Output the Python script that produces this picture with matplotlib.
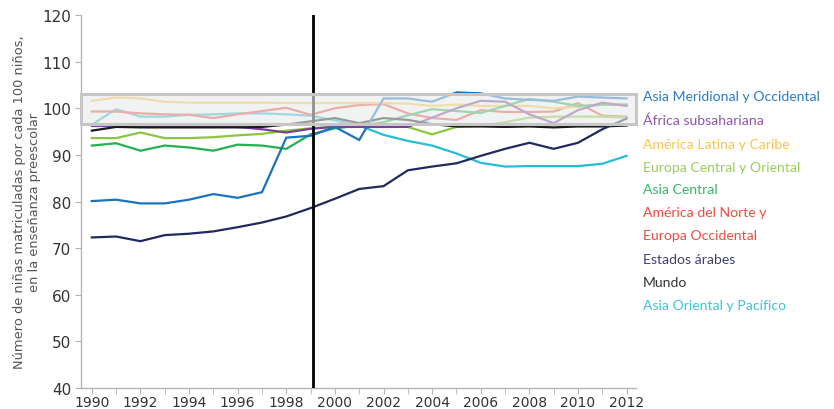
import numpy as np
import matplotlib
matplotlib.use('Agg')
import matplotlib.pyplot as plt
from matplotlib.patches import Rectangle

# data
years = list(range(1990, 2013))

asia_meridional = [80.1, 80.4, 79.6, 79.6, 80.4, 81.6, 80.8, 82.0, 93.7, 94.1, 96.0, 93.2,
                   102.1, 102.1, 101.4, 103.4, 103.2, 102.1, 101.8, 101.6, 102.5, 102.3, 102.1]
africa = [96.2, 96.2, 96.2, 96.2, 96.2, 96.1, 96.0, 95.5, 94.8, 95.6, 96.0, 96.0,
          96.0, 96.0, 98.0, 100.0, 101.6, 101.4, 98.7, 96.8, 99.6, 101.2, 100.5]
america_latina = [101.6, 102.3, 102.1, 101.4, 101.2, 101.2, 101.2, 101.2, 101.1, 101.1, 101.1, 101.1,
                  101.1, 101.0, 100.5, 100.8, 100.5, 100.5, 100.5, 100.0, 100.3, 100.7, 100.8]
europa_central = [93.6, 93.6, 94.8, 93.6, 93.6, 93.8, 94.2, 94.5, 95.2, 95.7, 96.1, 96.3,
                  96.2, 96.0, 94.4, 96.0, 96.2, 97.0, 98.0, 98.2, 98.2, 98.2, 98.0]
asia_central = [92.0, 92.5, 90.9, 92.0, 91.6, 90.9, 92.2, 92.0, 91.3, 94.4, 95.7, 96.3,
                97.0, 98.5, 99.8, 99.4, 99.0, 100.5, 102.0, 101.4, 100.5, 100.8, 100.8]
america_norte = [99.3, 99.3, 98.9, 98.7, 98.6, 97.9, 98.7, 99.4, 100.1, 98.6, 100.0, 100.7,
                 100.9, 98.9, 97.9, 97.5, 99.6, 99.2, 99.2, 99.3, 101.1, 98.4, 98.2]
estados_arabes = [72.3, 72.5, 71.5, 72.8, 73.1, 73.6, 74.5, 75.5, 76.8, 78.6, 80.6, 82.7,
                  83.3, 86.7, 87.5, 88.2, 89.8, 91.3, 92.6, 91.3, 92.6, 95.5, 97.8]
mundo = [95.2, 96.0, 95.9, 95.9, 95.9, 95.9, 95.9, 96.0, 96.5, 97.2, 97.9, 96.8,
         97.9, 97.5, 96.6, 96.1, 96.1, 96.0, 96.1, 95.9, 96.1, 96.1, 96.3]
asia_oriental = [96.5, 99.8, 98.2, 98.2, 98.6, 98.7, 98.9, 98.9, 98.7, 98.4, 97.4, 96.3,
                 94.3, 93.0, 92.0, 90.3, 88.3, 87.5, 87.6, 87.6, 87.6, 88.1, 89.8]

labels = ['Asia Meridional y Occidental', 'África subsahariana', 'América Latina y Caribe',
          'Europa Central y Oriental', 'Asia Central', 'América del Norte y',
          'Europa Occidental', 'Estados árabes', 'Mundo', 'Asia Oriental y Pacífico']
label_colors = ['#2a7bc4', '#8a55a8', '#fbc547', '#9acd5a', '#36b567', '#f04a40',
                '#f04a40', '#3a4270', '#333333', '#3cc3dc']

series = [
    (asia_oriental, '#27bcd6'),
    (america_norte, '#ee4a3f'),
    (america_latina, '#f8c547'),
    (asia_central, '#23b14d'),
    (europa_central, '#8cc63f'),
    (africa, '#7a3f9c'),
    (mundo, '#1a1a1a'),
    (asia_meridional, '#1b72bd'),
    (estados_arabes, '#1f2a5e'),
]

fig = plt.figure(figsize=(8.34, 4.10), dpi=100)
ax = fig.add_axes([0.097, 0.051, 0.666, 0.910])

for vals, col in series:
    ax.plot(years, vals, color=col, linewidth=1.6, solid_joinstyle='miter', zorder=2)

ax.axvline(1999.1, color='black', linewidth=2.0, zorder=3)

# highlighted band
box = Rectangle((1989.55, 96.7), 2012.4 - 1989.55, 103.1 - 96.7,
                facecolor='#e9ecec', alpha=0.62, edgecolor='none', zorder=4, clip_on=False)
ax.add_patch(box)
edge = Rectangle((1989.55, 96.7), 2012.4 - 1989.55, 103.1 - 96.7,
                 facecolor='none', edgecolor='#c6c6c6', linewidth=2.2, zorder=5, clip_on=False)
ax.add_patch(edge)

ax.set_xlim(1989.55, 2012.4)
ax.set_ylim(40, 120)
ax.set_yticks(range(40, 121, 10))
ax.set_xticks(range(1990, 2013, 2))
ax.set_xticks(range(1990, 2013, 1), minor=True)

for s in ['top', 'right']:
    ax.spines[s].set_visible(False)
for s in ['left', 'bottom']:
    ax.spines[s].set_color('#b5b5b5')
    ax.spines[s].set_linewidth(1.0)

ax.tick_params(axis='both', which='both', color='#b5b5b5', labelcolor='#333333', length=4)
ax.tick_params(axis='y', labelsize=11, pad=3)
ax.tick_params(axis='x', labelsize=10, pad=1)
for t in ax.get_xticklabels() + ax.get_yticklabels():
    t.set_family(['Liberation Sans Narrow', 'DejaVu Sans'])

ax.set_ylabel('Número de niñas matriculadas por cada 100 niños,\nen la enseñanza preescolar',
              fontsize=9.4, color='#555555', family=['Liberation Sans Narrow', 'DejaVu Sans'],
              linespacing=1.15, labelpad=1)

y_pos = [97, 121, 145, 168, 190, 213, 236, 260, 283, 306]
for lab, col, yp in zip(labels, label_colors, y_pos):
    fig.text(643 / 834, 1 - yp / 410, lab, color=col, fontsize=10.1,
             family=['Lato', 'DejaVu Sans'], va='center', ha='left')

fig.savefig('out.png', dpi=100)
